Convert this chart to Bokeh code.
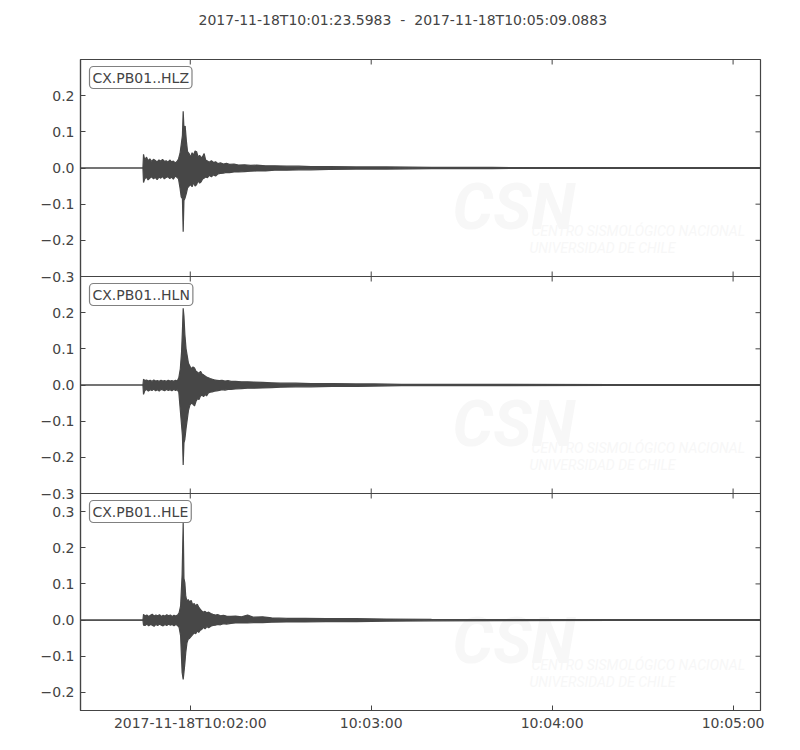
import math
from bokeh.plotting import figure
from bokeh.models import Range1d, FixedTicker, LinearAxis, Label, Span
from bokeh.embed import file_html
from bokeh.resources import INLINE

# ---------------- data (time in seconds after 2017-11-18T10:01:00) ----------------
title_text = "2017-11-18T10:01:23.5983 \u00a0-\u00a0 2017-11-18T10:05:09.0883"
t_start = 23.5983
t_end = 249.0883
x_ticks = [60, 120, 180, 240]
x_tick_labels = ["2017-11-18T10:02:00", "10:03:00", "10:04:00", "10:05:00"]
channels = ["CX.PB01..HLZ", "CX.PB01..HLN", "CX.PB01..HLE"]

# HLZ envelope (upper / lower amplitude per time sample)
hlz_t = [23.6, 44.3, 44.5, 44.9, 45.5, 46.0, 46.6, 47.2, 47.8, 48.4, 49.0, 49.6, 50.2, 50.8,
         51.4, 52.0, 52.6, 53.2, 53.8, 54.4, 55.0, 55.6, 56.1, 56.6, 57.0, 57.4, 57.65, 57.9,
         58.3, 58.7, 59.1, 59.6, 60.1, 60.6, 61.1, 61.6, 62.1, 62.6, 63.1, 63.6, 64.1, 64.6,
         65.1, 65.7, 66.3, 67.0, 67.7, 68.4, 69.2, 70.0, 71.0, 72.0, 73.0, 74.5, 76.0, 78.0,
         80.0, 82.0, 85.0, 88.0, 92.0, 96.0, 100.0, 106.0, 115.0, 125.0, 140.0, 160.0, 200.0, 249.09]
hlz_hi = [0, 0, 0.038, 0.022, 0.030, 0.020, 0.025, 0.018, 0.024, 0.021, 0.017, 0.022, 0.019, 0.024,
          0.018, 0.020, 0.016, 0.022, 0.017, 0.019, 0.014, 0.018, 0.025, 0.040, 0.065, 0.090, 0.157, 0.110,
          0.116, 0.075, 0.045, 0.040, 0.030, 0.042, 0.036, 0.047, 0.045, 0.030, 0.035, 0.028, 0.032, 0.040,
          0.022, 0.019, 0.016, 0.020, 0.015, 0.017, 0.012, 0.014, 0.011, 0.013, 0.010, 0.011, 0.008, 0.009,
          0.007, 0.008, 0.006, 0.006, 0.005, 0.005, 0.004, 0.004, 0.003, 0.003, 0.002, 0.0015, 0.001, 0.001]
hlz_lo = [0, 0, -0.040, -0.030, -0.025, -0.033, -0.028, -0.024, -0.030, -0.026, -0.032, -0.025, -0.028, -0.023,
          -0.030, -0.026, -0.024, -0.029, -0.025, -0.031, -0.022, -0.026, -0.030, -0.055, -0.080, -0.085, -0.176, -0.090,
          -0.082, -0.070, -0.055, -0.050, -0.045, -0.052, -0.040, -0.050, -0.046, -0.035, -0.042, -0.038, -0.030, -0.028,
          -0.025, -0.027, -0.020, -0.024, -0.019, -0.022, -0.016, -0.015, -0.014, -0.012, -0.013, -0.011, -0.011, -0.010,
          -0.009, -0.008, -0.008, -0.006, -0.006, -0.005, -0.005, -0.004, -0.003, -0.003, -0.002, -0.0015, -0.001, -0.001]

# HLN envelope
hln_t = [23.6, 44.3, 44.5, 44.9, 45.5, 46.1, 46.7, 47.3, 47.9, 48.5, 49.1, 49.7, 50.3, 50.9,
         51.5, 52.1, 52.7, 53.3, 53.9, 54.5, 55.1, 55.7, 56.2, 56.7, 57.1, 57.4, 57.65, 57.9,
         58.2, 58.6, 59.0, 59.4, 59.9, 60.4, 60.9, 61.4, 61.9, 62.4, 62.9, 63.4, 63.9, 64.4,
         64.9, 65.4, 66.0, 66.6, 67.3, 68.0, 68.8, 69.6, 70.5, 71.5, 72.5, 73.5, 75.0, 77.0,
         79.0, 81.0, 84.0, 87.0, 90.0, 95.0, 100.0, 107.0, 115.0, 121.0, 130.0, 145.0, 165.0, 200.0, 249.09]
hln_hi = [0, 0, 0.016, 0.012, 0.014, 0.011, 0.013, 0.010, 0.014, 0.011, 0.012, 0.010, 0.013, 0.011,
          0.012, 0.010, 0.013, 0.011, 0.012, 0.010, 0.013, 0.011, 0.020, 0.045, 0.090, 0.150, 0.212, 0.190,
          0.140, 0.100, 0.080, 0.060, 0.052, 0.045, 0.050, 0.047, 0.038, 0.035, 0.032, 0.038, 0.030, 0.028,
          0.025, 0.022, 0.020, 0.018, 0.016, 0.014, 0.013, 0.012, 0.013, 0.011, 0.012, 0.010, 0.010, 0.009,
          0.009, 0.008, 0.007, 0.006, 0.005, 0.005, 0.004, 0.004, 0.003, 0.003, 0.002, 0.002, 0.0015, 0.001, 0.001]
hln_lo = [0, 0, -0.026, -0.016, -0.012, -0.017, -0.013, -0.015, -0.011, -0.016, -0.013, -0.017, -0.012, -0.014,
          -0.016, -0.012, -0.015, -0.013, -0.016, -0.012, -0.015, -0.013, -0.020, -0.070, -0.110, -0.140, -0.221, -0.160,
          -0.150, -0.120, -0.095, -0.070, -0.055, -0.050, -0.053, -0.058, -0.045, -0.038, -0.040, -0.030, -0.028, -0.032,
          -0.026, -0.030, -0.022, -0.020, -0.019, -0.017, -0.016, -0.015, -0.013, -0.014, -0.012, -0.012, -0.011, -0.010,
          -0.009, -0.009, -0.008, -0.007, -0.006, -0.005, -0.005, -0.004, -0.004, -0.003, -0.002, -0.002, -0.0015, -0.001, -0.001]

# HLE envelope
hle_t = [23.6, 44.3, 44.5, 45.0, 45.6, 46.2, 46.8, 47.4, 48.0, 48.6, 49.2, 49.8, 50.4, 51.0,
         51.6, 52.2, 52.8, 53.4, 54.0, 54.6, 55.2, 55.8, 56.3, 56.8, 57.3, 57.65, 57.9, 58.2,
         58.5, 58.9, 59.3, 59.8, 60.3, 60.8, 61.3, 61.8, 62.3, 62.8, 63.3, 63.8, 64.3, 64.9,
         65.5, 66.1, 66.8, 67.5, 68.3, 69.1, 70.0, 71.0, 72.0, 73.5, 75.0, 77.0, 79.0, 81.0,
         84.0, 87.0, 92.0, 98.0, 105.0, 115.0, 125.0, 140.0, 165.0, 200.0, 249.09]
hle_hi = [0, 0, 0.016, 0.011, 0.014, 0.010, 0.013, 0.016, 0.011, 0.014, 0.012, 0.015, 0.010, 0.013,
          0.011, 0.015, 0.012, 0.014, 0.010, 0.013, 0.011, 0.014, 0.020, 0.039, 0.126, 0.269, 0.115, 0.103,
          0.066, 0.052, 0.057, 0.050, 0.054, 0.042, 0.046, 0.039, 0.044, 0.036, 0.030, 0.025, 0.022, 0.024,
          0.020, 0.022, 0.018, 0.016, 0.014, 0.015, 0.012, 0.013, 0.011, 0.010, 0.011, 0.009, 0.014, 0.008,
          0.009, 0.006, 0.005, 0.005, 0.004, 0.004, 0.003, 0.002, 0.0015, 0.001, 0.001]
hle_lo = [0, 0, -0.014, -0.015, -0.011, -0.016, -0.012, -0.014, -0.017, -0.012, -0.015, -0.011, -0.014, -0.016,
          -0.012, -0.015, -0.011, -0.014, -0.012, -0.016, -0.012, -0.015, -0.020, -0.044, -0.145, -0.164, -0.145, -0.120,
          -0.090, -0.063, -0.053, -0.050, -0.045, -0.040, -0.035, -0.038, -0.030, -0.034, -0.028, -0.026, -0.020, -0.024,
          -0.018, -0.021, -0.017, -0.015, -0.014, -0.012, -0.013, -0.010, -0.011, -0.009, -0.008, -0.008, -0.008, -0.007,
          -0.007, -0.006, -0.005, -0.005, -0.004, -0.004, -0.003, -0.002, -0.0015, -0.001, -0.001]

# per-panel y tick values and labels
y_ticks = [[-0.3, -0.2, -0.1, 0.0, 0.1, 0.2],
           [-0.3, -0.2, -0.1, 0.0, 0.1, 0.2],
           [-0.2, -0.1, 0.0, 0.1, 0.2, 0.3]]
y_tick_labels = [["\u22120.3", "\u22120.2", "\u22120.1", "0.0", "0.1", "0.2"],
                 ["\u22120.3", "\u22120.2", "\u22120.1", "0.0", "0.1", "0.2"],
                 ["\u22120.2", "\u22120.1", "0.0", "0.1", "0.2", "0.3"]]
# where each panel's zero lies on the shared stacked axis, and each panel's top edge
panel_zero = [1.5, 0.9, 0.25]
panel_top = [1.8, 1.2, 0.6]
panel_bottom = [1.2, 0.6, 0.0]

traces = [(hlz_t, hlz_hi, hlz_lo), (hln_t, hln_hi, hln_lo), (hle_t, hle_hi, hle_lo)]

# ---------------- styling ----------------
FONT = "DejaVu Sans"
TEXT = "#444444"
FRAME = "#444444"
TRACE = "#474747"
WATERMARK = "#f7f7f7"
WM_FONT = "Roboto"

p = figure(width=792, height=742,
           x_range=Range1d(t_start, t_end), y_range=Range1d(0.0, 1.8),
           output_backend="svg", toolbar_location=None,
           x_axis_location=None, y_axis_location=None,
           min_border_left=80, min_border_right=32,
           min_border_top=59, min_border_bottom=32,
           background_fill_color="white", border_fill_color="white",
           outline_line_color=FRAME, outline_line_width=1.2)
p.xgrid.visible = False
p.ygrid.visible = False

# title (padding below the text lifts it up into the top margin)
p.title.text = title_text
p.title.align = "left"
p.title.offset = 118
p.title.vertical_align = "top"
p.title.standoff = 0
p.title.padding = dict(left=0, right=0, top=0, bottom=30)
p.title.text_font = FONT
p.title.text_font_size = "14px"
p.title.text_font_style = "normal"
p.title.text_color = TEXT

# left axis carrying all three panels' tick labels
all_y_ticks = []
all_y_labels = {}
for i in range(3):
    for v, lab in zip(y_ticks[i], y_tick_labels[i]):
        pos = round(panel_zero[i] + v, 6)
        all_y_ticks.append(pos)
        all_y_labels[pos] = lab

common = dict(major_tick_in=5, major_tick_out=0, minor_tick_line_color=None,
              axis_line_color=FRAME, axis_line_width=1.2,
              major_tick_line_color=FRAME, major_tick_line_width=1,
              major_label_text_font=FONT, major_label_text_font_size="14px",
              major_label_text_color=TEXT)

yaxis = LinearAxis(ticker=FixedTicker(ticks=all_y_ticks), major_label_overrides=all_y_labels,
                   major_label_standoff=6, **common)
p.add_layout(yaxis, "left")

xaxis = LinearAxis(ticker=FixedTicker(ticks=x_ticks),
                   major_label_overrides={k: v for k, v in zip(x_ticks, x_tick_labels)},
                   major_label_standoff=4, **common)
p.add_layout(xaxis, "below")

# panel separators
for b in panel_bottom[:2]:
    p.add_layout(Span(location=b, dimension="width", line_color=FRAME, line_width=1.2))

# watermark (faint CSN logo text) in every panel, drawn beneath the traces
for i in range(3):
    p.add_layout(Label(x=t_start, y=panel_top[i], x_offset=372, y_offset=-148,
                       text="CSN", text_font=WM_FONT, text_font_style="bold italic",
                       text_font_size="64px", text_color=WATERMARK, text_baseline="alphabetic",
                       level="underlay"))
    p.add_layout(Label(x=t_start, y=panel_top[i], x_offset=451, y_offset=-171,
                       text="CENTRO SISMOLÓGICO NACIONAL", text_font=WM_FONT,
                       text_font_style="italic", text_font_size="14px", text_color=WATERMARK,
                       text_baseline="alphabetic", level="underlay"))
    p.add_layout(Label(x=t_start, y=panel_top[i], x_offset=449, y_offset=-188,
                       text="UNIVERSIDAD DE CHILE", text_font=WM_FONT,
                       text_font_style="italic", text_font_size="14px", text_color=WATERMARK,
                       text_baseline="alphabetic", level="underlay"))

# waveforms
for i in range(3):
    t, hi, lo = traces[i]
    z = panel_zero[i]
    y_hi = [z + v for v in hi]
    y_lo = [z + v for v in lo]
    p.varea(x=t, y1=y_lo, y2=y_hi, fill_color=TRACE)
    p.line(x=t, y=y_hi, line_color=TRACE, line_width=1.2)
    p.line(x=t, y=y_lo, line_color=TRACE, line_width=1.2)

# inward tick marks on right edge, top edge and along panel separators
p.scatter(x=[t_end] * len(all_y_ticks), y=all_y_ticks, marker="dash", size=10,
          line_color=FRAME, line_width=1)
for b in [panel_top[0], panel_bottom[0], panel_bottom[1]]:
    p.scatter(x=x_ticks, y=[b] * len(x_ticks), marker="dash", size=10, angle=math.pi / 2,
              line_color=FRAME, line_width=1)

# channel labels
for i in range(3):
    p.add_layout(Label(x=t_start, y=panel_top[i], x_offset=9, y_offset=-7,
                       text=channels[i], anchor="top_left",
                       text_font=FONT, text_font_size="14px", text_color=TEXT,
                       background_fill_color="white", border_line_color="#808080",
                       border_line_width=1.2, border_radius=4, padding=3))

open("out.html", "w").write(file_html(p, INLINE))
